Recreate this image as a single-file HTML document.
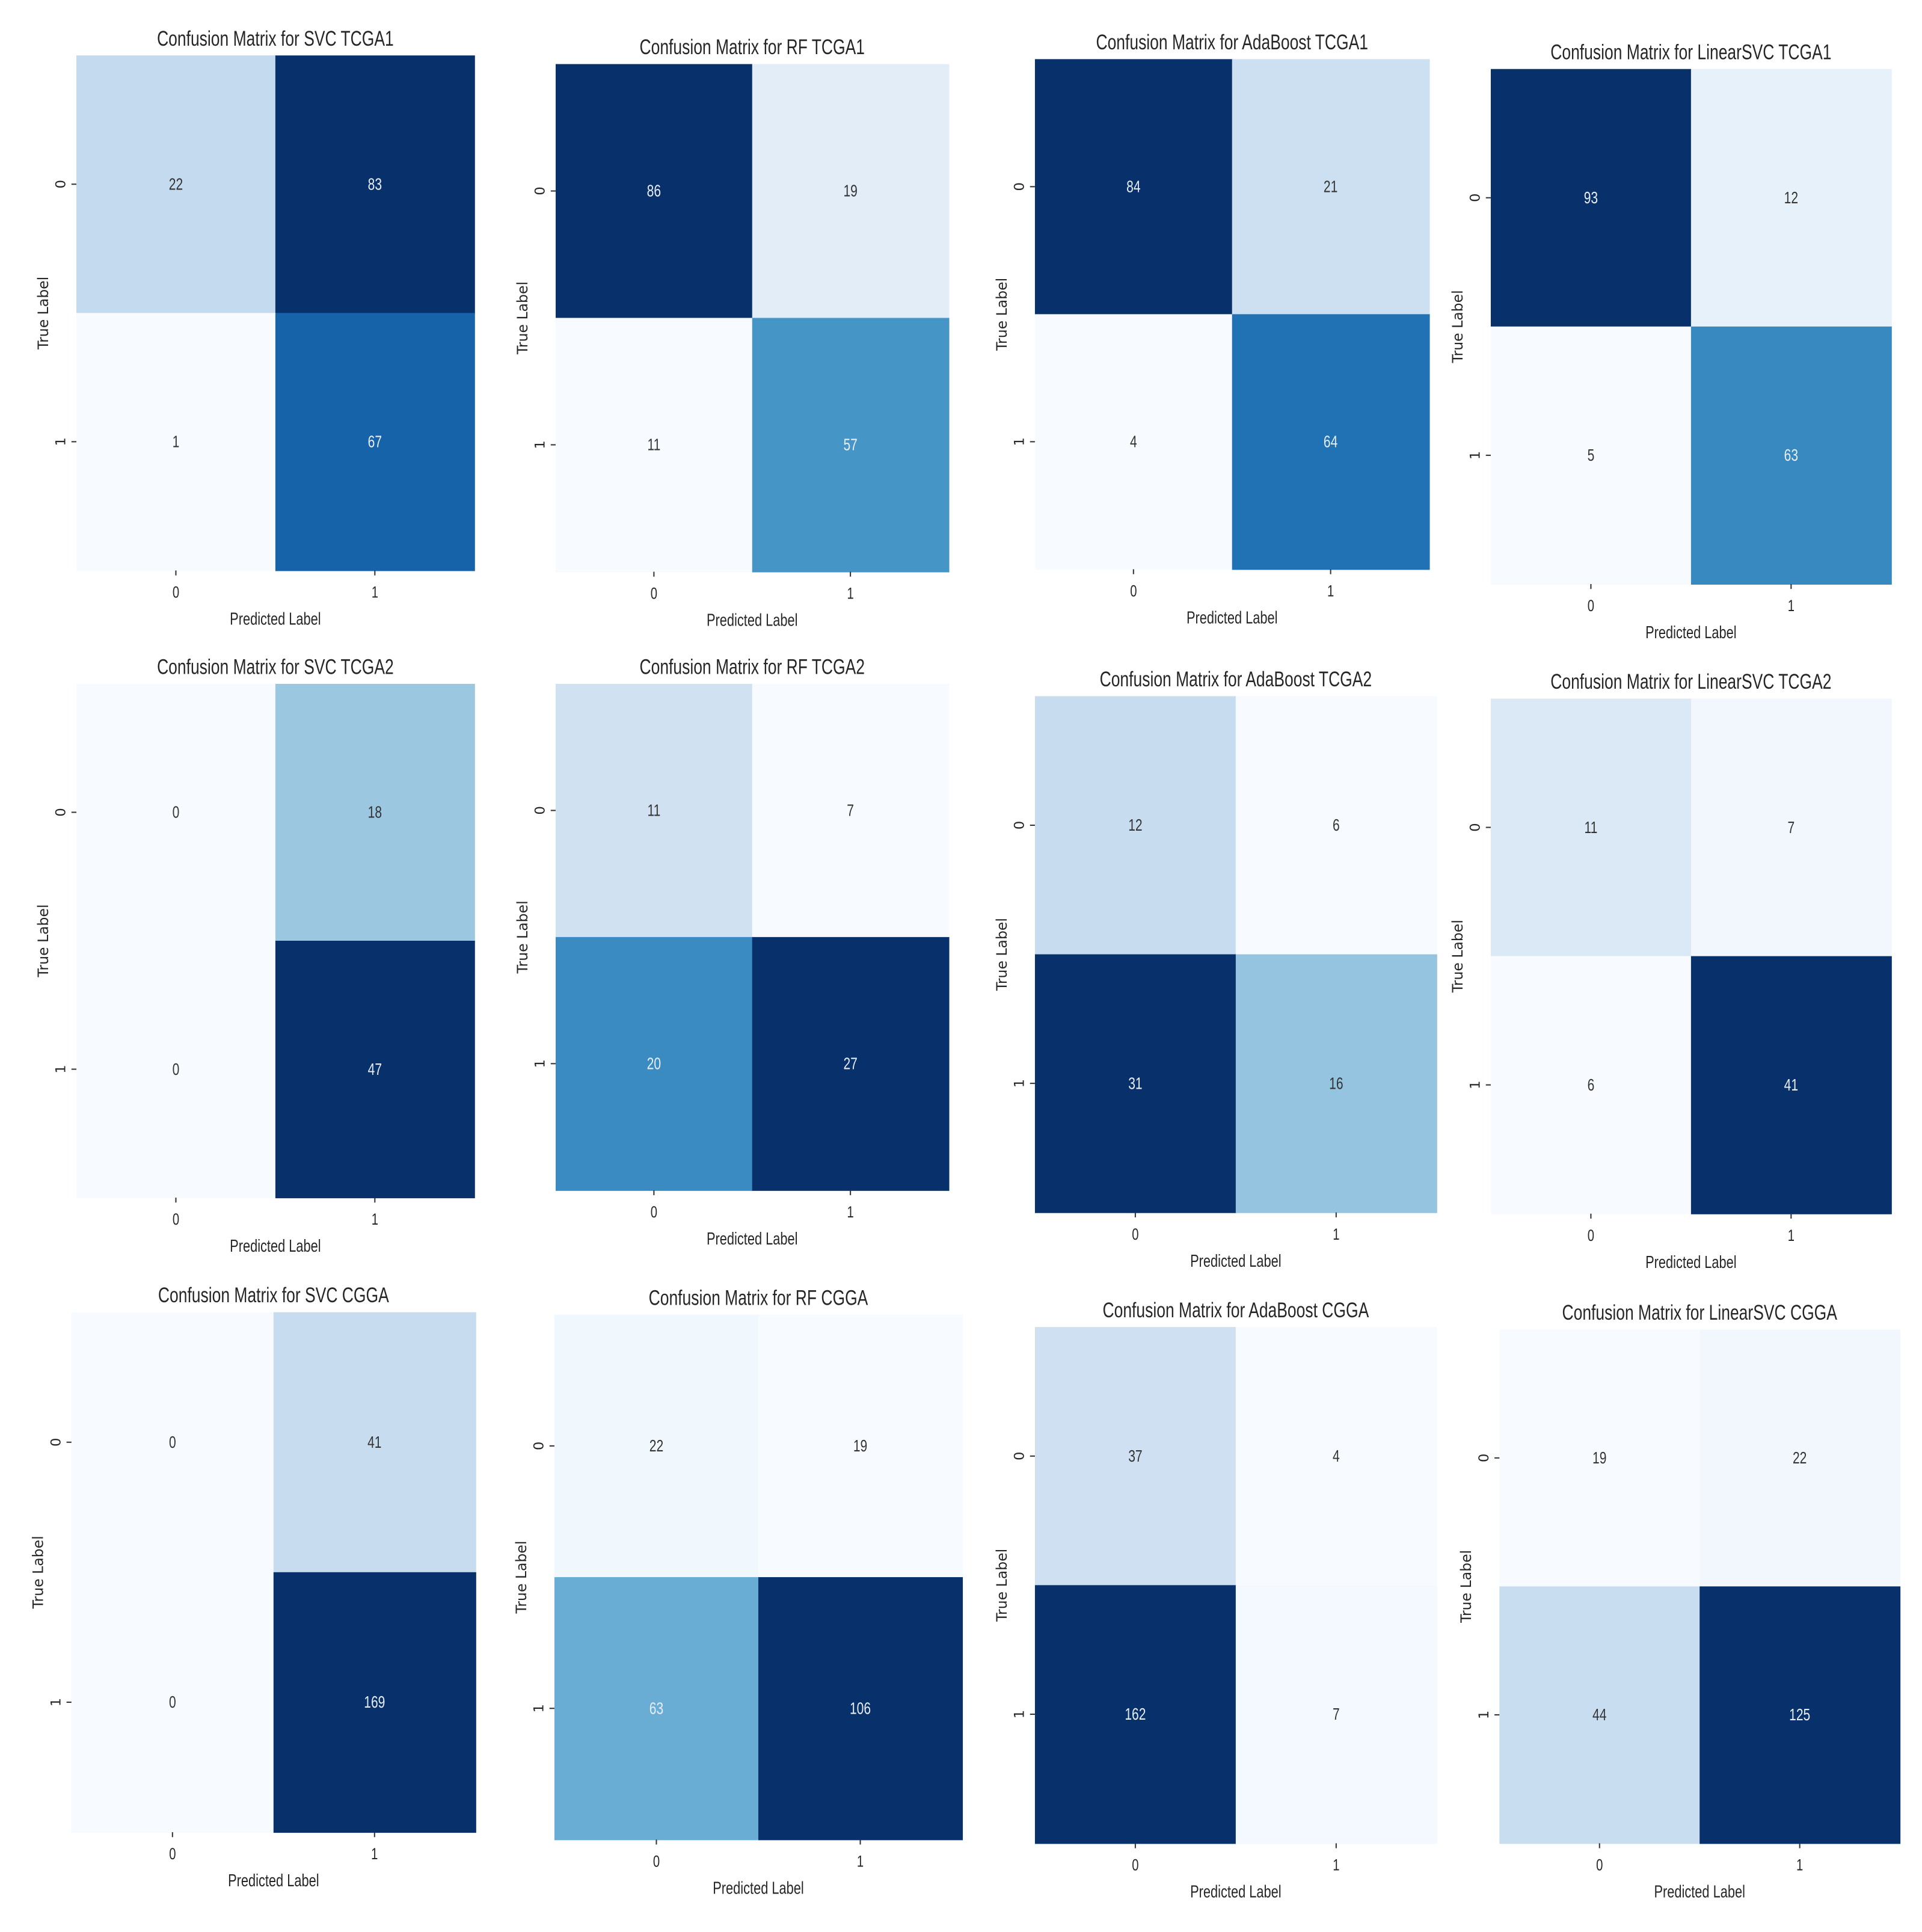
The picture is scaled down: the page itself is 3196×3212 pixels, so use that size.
<!DOCTYPE html>
<html><head><meta charset="utf-8">
<style>
html,body{margin:0;padding:0;background:#fff;}
svg{display:block;}
.t{font-family:"Liberation Sans",sans-serif;fill:#262626;}
.d{font-family:"DejaVu Sans","Liberation Sans",sans-serif;fill:#262626;}
</style></head>
<body>
<svg id="fig" width="3196" height="3212" viewBox="0 0 1560 1568" preserveAspectRatio="none" xmlns="http://www.w3.org/2000/svg"></svg>
<script>
const titles = [
 "Confusion Matrix for SVC TCGA1","Confusion Matrix for RF TCGA1","Confusion Matrix for AdaBoost TCGA1","Confusion Matrix for LinearSVC TCGA1",
 "Confusion Matrix for SVC TCGA2","Confusion Matrix for RF TCGA2","Confusion Matrix for AdaBoost TCGA2","Confusion Matrix for LinearSVC TCGA2",
 "Confusion Matrix for SVC CGGA","Confusion Matrix for RF CGGA","Confusion Matrix for AdaBoost CGGA","Confusion Matrix for LinearSVC CGGA"];
const matrices = [
 [[22,83],[1,67]], [[86,19],[11,57]], [[84,21],[4,64]], [[93,12],[5,63]],
 [[0,18],[0,47]], [[11,7],[20,27]], [[12,6],[31,16]], [[11,7],[6,41]],
 [[0,41],[0,169]], [[22,19],[63,106]], [[37,4],[162,7]], [[19,22],[44,125]]];
const tickLabels = ["0","1"];
// panel frames [x0,y0,x1,y1]
const frames = [
 [62,45,385,463],[451,52,770,464],[840,48,1160,462],[1210,56,1535,474],
 [62,555,385,972],[451,555,770,966],[840,565,1166,984],[1210,567,1535,985],
 [58,1065,386,1487],[450,1067,781,1493],[840,1077,1166,1496],[1217,1079,1542,1496]];

const blues=[[247,251,255],[222,235,247],[198,219,239],[158,202,225],[107,174,214],[66,146,198],[33,113,181],[8,81,156],[8,48,107]];
function cmap(t){t=Math.max(0,Math.min(1,t));const p=t*8,i=Math.min(7,Math.floor(p)),f=p-i;
 return blues[i].map((v,k)=>Math.round(v+(blues[i+1][k]-v)*f));}
const NS="http://www.w3.org/2000/svg";
const svg=document.getElementById('fig');
function mk(tag,attrs,parent){const e=document.createElementNS(NS,tag);for(const k in attrs)e.setAttribute(k,attrs[k]);(parent||svg).appendChild(e);return e;}
const SX=0.76;
function narrow(x,y){return `translate(${x},${y}) scale(${SX},1)`;}

matrices.forEach((m,idx)=>{
 const [x0,y0,x1,y1]=frames[idx];
 const g=mk('g',{});
 
 
 const flat=m.flat(),mn=Math.min(...flat),mx=Math.max(...flat);
 const cw=(x1-x0)/2,ch=(y1-y0)/2;
 const xs=c=>x0+cw*c, ys=r=>y0+ch*r;
 for(let r=0;r<2;r++)for(let c=0;c<2;c++){
  const v=m[r][c];const t=mx===mn?0:(v-mn)/(mx-mn);const col=cmap(t);
  const rect=mk('rect',{x:xs(c),y:ys(r),width:cw+0.5,height:ch+0.5,fill:`rgb(${col})`},g);
  
  
  const lum=0.299*col[0]+0.587*col[1]+0.114*col[2];
  const tx=mk('text',{x:0,y:0,transform:narrow(xs(c)+cw/2,ys(r)+ch/2+4.5),'text-anchor':'middle','font-size':13.5,class:'t',style:'fill:'+(lum<170?'#e8eef6':'#333')},g);
  tx.textContent=v;
  
  
 }
 const ti=mk('text',{x:0,y:0,transform:narrow((x0+x1)/2,y0-8),'text-anchor':'middle','font-size':17,class:'t'},g);
 ti.textContent=titles[idx];
 
 
 tickLabels.forEach((lb,i)=>{
  const cx=xs(i)+cw/2, cy=ys(i)+ch/2;
  mk('line',{x1:cx,x2:cx,y1:y1,y2:y1+4,stroke:'#333','stroke-width':1},g);
  const xt=mk('text',{x:0,y:0,transform:narrow(cx,y1+22),'text-anchor':'middle','font-size':13,class:'t'},g);
  xt.textContent=lb;
  
  
  mk('line',{x1:x0-4,x2:x0,y1:cy,y2:cy,stroke:'#333','stroke-width':1},g);
  const yt=mk('text',{x:0,y:0,'text-anchor':'middle','font-size':11,class:'d',transform:`translate(${x0-9},${cy}) rotate(-90)`},g);
  yt.textContent=lb;
  
  
 });
 const xl=mk('text',{x:0,y:0,transform:narrow((x0+x1)/2,y1+44),'text-anchor':'middle','font-size':14,class:'t'},g);
 xl.textContent="Predicted Label";
 
 
 const yl=mk('text',{x:0,y:0,'text-anchor':'middle','font-size':11.5,class:'d',transform:`translate(${x0-23},${(y0+y1)/2}) rotate(-90)`},g);
 yl.textContent="True Label";
 
 
});
</script>
</body></html>
